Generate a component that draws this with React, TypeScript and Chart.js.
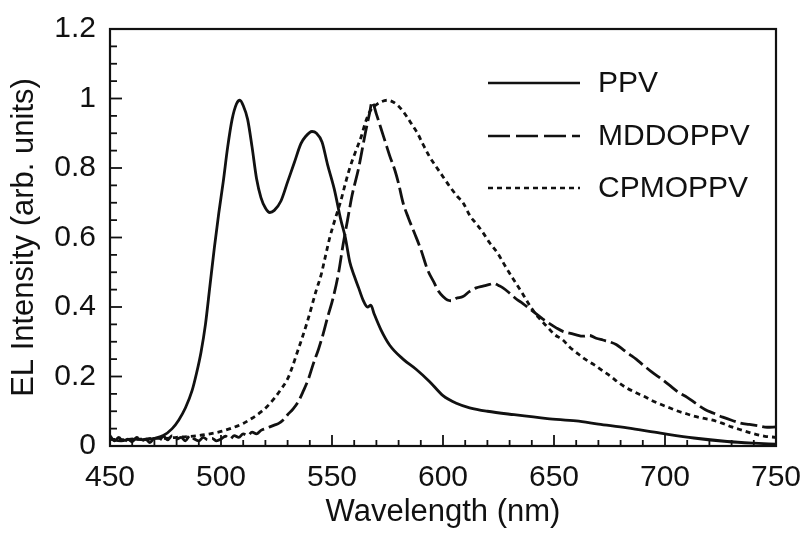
import React, { useEffect, useRef } from "react";
import { Chart, registerables } from "chart.js";

Chart.register(...registerables);

// PPV (solid)
const ppvX = [450, 455, 460, 465, 470, 474, 478, 481, 484, 487, 489, 491, 493, 495, 497, 499, 501, 503, 505, 507, 508.5, 510, 512, 514, 516, 518, 520, 522, 524, 527, 530, 533, 536, 538, 541, 543, 545.5, 548, 551, 554, 556, 558, 560, 562, 564, 566, 567.5, 569, 572, 576, 582, 588, 594, 600, 606, 612, 620, 632, 647, 660, 670, 683, 698, 713, 728, 740, 750];
const ppvY = [0.02, 0.015, 0.02, 0.018, 0.022, 0.03, 0.05, 0.075, 0.11, 0.16, 0.21, 0.27, 0.35, 0.46, 0.57, 0.67, 0.76, 0.86, 0.94, 0.985, 0.995, 0.98, 0.94, 0.86, 0.77, 0.715, 0.685, 0.672, 0.678, 0.705, 0.76, 0.815, 0.87, 0.89, 0.905, 0.9, 0.875, 0.81, 0.74, 0.65, 0.6, 0.53, 0.49, 0.455, 0.42, 0.4, 0.405, 0.38, 0.335, 0.29, 0.25, 0.22, 0.185, 0.145, 0.123, 0.11, 0.1, 0.09, 0.079, 0.072, 0.063, 0.052, 0.037, 0.023, 0.013, 0.008, 0.005];

// MDDOPPV (dashed)
const mddX = [450, 452, 454, 456, 458, 460, 462, 464, 466, 468, 470, 472, 474, 476, 478, 480, 482, 484, 486, 488, 490, 492, 494, 496, 498, 500, 502, 504, 506, 508, 510, 512, 514, 516, 518, 520, 522, 524, 526, 528, 530, 532.5, 535, 537, 539.5, 541.5, 544, 546, 548, 550.5, 553, 555, 557, 559, 562, 565, 567, 568, 570, 572, 574, 576, 578.5, 580, 582, 584.5, 587, 590, 593, 596, 598, 600, 602, 604, 606, 609, 612, 615, 618, 621, 623, 625, 627, 630, 633, 636, 639, 642, 645, 648, 651, 654, 657, 660, 663, 666, 669, 672, 675, 678, 681, 684, 687, 690, 694, 698, 702, 706, 710, 714, 718, 722, 726, 730, 734, 738, 742, 746, 750];
const mddY = [0.03, 0.015, 0.025, 0.01, 0.02, 0.012, 0.025, 0.015, 0.02, 0.01, 0.022, 0.015, 0.028, 0.018, 0.03, 0.02, 0.025, 0.015, 0.03, 0.02, 0.015, 0.025, 0.018, 0.022, 0.015, 0.02, 0.028, 0.02, 0.03, 0.025, 0.035, 0.03, 0.04, 0.035, 0.045, 0.05, 0.055, 0.06, 0.065, 0.075, 0.09, 0.107, 0.13, 0.157, 0.195, 0.235, 0.28, 0.322, 0.37, 0.426, 0.5, 0.58, 0.65, 0.72, 0.8, 0.9, 0.96, 0.99, 0.955, 0.915, 0.875, 0.835, 0.79, 0.755, 0.7, 0.655, 0.615, 0.566, 0.508, 0.47, 0.445, 0.43, 0.42, 0.418, 0.425, 0.43, 0.445, 0.455, 0.46, 0.465, 0.468, 0.462, 0.455, 0.44, 0.423, 0.41, 0.395, 0.38, 0.365, 0.352, 0.34, 0.33, 0.325, 0.32, 0.316, 0.318, 0.31, 0.305, 0.3, 0.292, 0.278, 0.264, 0.25, 0.234, 0.213, 0.195, 0.175, 0.155, 0.14, 0.122, 0.105, 0.094, 0.083, 0.074, 0.066, 0.062, 0.058, 0.054, 0.055];

// CPMOPPV (dotted)
const cpmX = [450, 455, 460, 465, 470, 475, 480, 485, 490, 495, 500, 505, 510, 514, 518, 521, 524, 527, 530, 532, 534, 536.5, 539, 541, 543, 545, 547, 549, 551.5, 554, 556, 558, 560.5, 563, 565, 567, 569.5, 572, 575, 577.5, 580, 582, 584, 586, 588.5, 591, 594, 597, 600, 603, 606.5, 609, 612.4, 615, 618, 621, 624.6, 628, 632, 636, 639.5, 643, 647, 650, 654, 657, 660.7, 664, 668, 672, 675.6, 679, 683, 687, 690.5, 694, 698, 702, 706, 710, 713, 717, 721, 726, 730, 735, 740, 745, 750];
const cpmY = [0.02, 0.018, 0.02, 0.02, 0.022, 0.022, 0.025, 0.027, 0.03, 0.035, 0.042, 0.052, 0.065, 0.08, 0.098, 0.115, 0.137, 0.163, 0.193, 0.225, 0.263, 0.31, 0.36, 0.405, 0.45, 0.49, 0.545, 0.6, 0.655, 0.706, 0.755, 0.8, 0.845, 0.887, 0.93, 0.962, 0.98, 0.99, 0.995, 0.99, 0.978, 0.963, 0.945, 0.925, 0.9, 0.868, 0.832, 0.803, 0.775, 0.747, 0.718, 0.7, 0.66, 0.64, 0.614, 0.585, 0.555, 0.518, 0.477, 0.437, 0.4, 0.37, 0.343, 0.322, 0.305, 0.285, 0.266, 0.25, 0.234, 0.216, 0.2, 0.183, 0.166, 0.153, 0.143, 0.131, 0.12, 0.11, 0.1, 0.092, 0.086, 0.08, 0.075, 0.065, 0.055, 0.045, 0.035, 0.028, 0.025];

const seriesNames = ["PPV", "MDDOPPV", "CPMOPPV"];
const xMajorTicks = [450, 500, 550, 600, 650, 700, 750];
const yMajorTicks = [0, 0.2, 0.4, 0.6, 0.8, 1, 1.2];
const xMinorStep = 10;
const yMinorStep = 0.05;

const FONT = "'Liberation Sans', Arial, Helvetica, sans-serif";

const toPoints = (xs: number[], ys: number[]) => xs.map((x, i) => ({ x, y: ys[i] }));

const frameTicksPlugin = {
  id: "frameTicks",
  afterDatasetsDraw(chart: any) {
    const { ctx, chartArea, scales } = chart;
    const { left, right, top, bottom } = chartArea;
    const xs = scales.x;
    const ys = scales.y;
    ctx.save();
    ctx.strokeStyle = "#111";
    ctx.lineWidth = 1.8;
    for (let v = 450; v <= 750 + 1e-6; v += xMinorStep) {
      const px = xs.getPixelForValue(v);
      const major = xMajorTicks.some((m) => Math.abs(m - v) < 1e-6);
      const len = major ? 11 : 6;
      ctx.beginPath();
      ctx.moveTo(px, bottom);
      ctx.lineTo(px, bottom - len);
      ctx.stroke();
    }
    for (let v = 0; v <= 1.2 + 1e-6; v += yMinorStep) {
      const py = ys.getPixelForValue(v);
      const major = yMajorTicks.some((m) => Math.abs(m - v) < 1e-6);
      const len = major ? 12 : 7;
      ctx.beginPath();
      ctx.moveTo(left, py);
      ctx.lineTo(left + len, py);
      ctx.stroke();
    }
    ctx.lineWidth = 2.2;
    ctx.strokeRect(left, top, right - left, bottom - top);

    // legend
    const rows = [83, 136, 188];
    const dashes: number[][] = [[], [22, 6], [5, 4]];
    ctx.font = `30px ${FONT}`;
    ctx.fillStyle = "#111";
    ctx.textBaseline = "middle";
    ctx.textAlign = "left";
    rows.forEach((y, i) => {
      ctx.lineWidth = 2.6;
      ctx.setLineDash(dashes[i]);
      ctx.beginPath();
      ctx.moveTo(488, y);
      ctx.lineTo(580, y);
      ctx.stroke();
      ctx.setLineDash([]);
      ctx.fillText(seriesNames[i], 598, y + 1);
    });
    ctx.restore();
  },
};

export default function App() {
  const ref = useRef<HTMLCanvasElement>(null);
  useEffect(() => {
    if (!ref.current) return;
    Chart.defaults.font.family = FONT;
    Chart.defaults.color = "#111";
    const chart = new Chart(ref.current, {
      type: "line",
      data: {
        datasets: [
          {
            label: seriesNames[0],
            data: toPoints(ppvX, ppvY),
            borderColor: "#111",
            borderWidth: 2.8,
            pointRadius: 0,
            cubicInterpolationMode: "monotone",
          },
          {
            label: seriesNames[1],
            data: toPoints(mddX, mddY),
            borderColor: "#111",
            borderWidth: 2.8,
            borderDash: [17, 5],
            pointRadius: 0,
            cubicInterpolationMode: "monotone",
          },
          {
            label: seriesNames[2],
            data: toPoints(cpmX, cpmY),
            borderColor: "#111",
            borderWidth: 2.8,
            borderDash: [5, 4],
            pointRadius: 0,
            cubicInterpolationMode: "monotone",
          },
        ],
      },
      options: {
        animation: false,
        responsive: false,
        devicePixelRatio: 1,
        layout: { padding: { top: 29, right: 28, left: 0, bottom: 0 } },
        plugins: { legend: { display: false }, tooltip: { enabled: false } },
        scales: {
          x: {
            type: "linear",
            min: 450,
            max: 750,
            grid: { display: false, drawTicks: false },
            border: { display: false },
            afterFit: (s: any) => {
              s.height = 89;
              s.paddingLeft = 0;
              s.paddingRight = 0;
            },
            afterBuildTicks: (s: any) => {
              s.ticks = xMajorTicks.map((v) => ({ value: v }));
            },
            ticks: {
              font: { size: 30 },
              color: "#111",
              padding: 14,
              maxRotation: 0,
              autoSkip: false,
            },
            title: {
              display: true,
              text: "Wavelength (nm)",
              font: { size: 31 },
              color: "#111",
              padding: { top: 0, bottom: 4 },
            },
          },
          y: {
            type: "linear",
            min: 0,
            max: 1.2,
            grid: { display: false, drawTicks: false },
            border: { display: false },
            afterFit: (s: any) => {
              s.width = 110;
              s.paddingTop = 0;
              s.paddingBottom = 0;
            },
            afterBuildTicks: (s: any) => {
              s.ticks = yMajorTicks.map((v) => ({ value: v }));
            },
            ticks: {
              font: { size: 30 },
              color: "#111",
              padding: 14,
              autoSkip: false,
              callback: (v: any) => String(Number(Number(v).toFixed(1))),
            },
            title: {
              display: true,
              text: "EL Intensity (arb. units)",
              font: { size: 31 },
              color: "#111",
              padding: { top: 6, bottom: 0 },
            },
          },
        },
      },
      plugins: [frameTicksPlugin],
    } as any);
    return () => chart.destroy();
  }, []);
  return (
    <div style={{ position: "absolute", left: 0, top: 0, width: 804, height: 535, background: "#fff" }}>
      <canvas ref={ref} width={804} height={535} />
    </div>
  );
}
